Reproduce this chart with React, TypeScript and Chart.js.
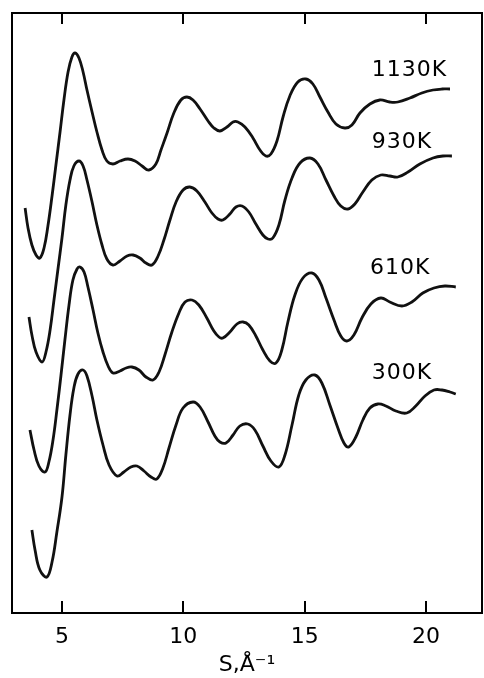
import React, { useEffect, useRef } from "react";
import { Chart, registerables } from "chart.js";

Chart.register(...registerables);

// x axis (S, Å^-1)
const xMin = 2.94;
const xMax = 22.31;
const tickValues = [5, 10, 15, 20];
// y axis: intensity, arbitrary units (curves are shown vertically offset)
const yMin = 0;
const yMax = 600;

// 1130 K
const s1130X = [3.48, 3.6, 3.76, 3.93, 4.09, 4.26, 4.42, 4.59, 4.75, 4.92, 5.08, 5.25, 5.41, 5.54, 5.7, 5.87, 6.03, 6.24, 6.44, 6.65, 6.85, 7.1, 7.39, 7.72, 8.01, 8.3, 8.58, 8.87, 9.08, 9.33, 9.61, 9.9, 10.15, 10.4, 10.69, 11.02, 11.26, 11.51, 11.8, 12.05, 12.25, 12.54, 12.87, 13.16, 13.4, 13.61, 13.86, 14.11, 14.39, 14.72, 15.05, 15.34, 15.63, 15.96, 16.29, 16.66, 16.95, 17.28, 17.69, 18.1, 18.51, 18.84, 19.34, 19.83, 20.29, 20.66, 20.99];
const s1130Y = [405, 385, 368, 358, 355, 365, 387, 417, 448, 481, 513, 541, 556, 560, 555, 541, 523, 501, 481, 463, 452, 449, 452, 454, 452, 447, 443, 449, 463, 480, 500, 513, 516, 513, 504, 492, 485, 482, 486, 491, 491, 486, 475, 463, 457, 459, 472, 496, 517, 531, 534, 529, 516, 501, 489, 485, 488, 500, 509, 513, 511, 511, 515, 520, 523, 524, 524];

// 930 K
const s930X = [3.64, 3.76, 3.93, 4.18, 4.34, 4.51, 4.67, 4.84, 5.0, 5.16, 5.33, 5.49, 5.7, 5.87, 6.03, 6.24, 6.44, 6.65, 6.85, 7.1, 7.39, 7.68, 7.93, 8.21, 8.46, 8.71, 8.96, 9.2, 9.45, 9.7, 9.99, 10.27, 10.56, 10.89, 11.18, 11.43, 11.63, 11.92, 12.17, 12.42, 12.7, 12.99, 13.28, 13.49, 13.69, 13.94, 14.19, 14.48, 14.81, 15.22, 15.55, 15.88, 16.21, 16.49, 16.78, 17.07, 17.4, 17.77, 18.14, 18.51, 18.84, 19.26, 19.75, 20.29, 20.7, 21.07];
const s930Y = [296, 278, 261, 251, 261, 283, 313, 345, 375, 408, 433, 447, 452, 447, 433, 411, 388, 368, 354, 348, 352, 357, 358, 355, 350, 348, 357, 373, 393, 411, 423, 426, 422, 411, 400, 394, 393, 399, 406, 407, 401, 389, 378, 374, 375, 388, 413, 435, 450, 455, 449, 433, 417, 407, 404, 409, 421, 433, 438, 437, 436, 441, 449, 455, 457, 457];

// 610 K
const s610X = [3.68, 3.85, 4.05, 4.3, 4.46, 4.63, 4.79, 4.96, 5.12, 5.29, 5.45, 5.62, 5.74, 5.91, 6.07, 6.28, 6.48, 6.69, 6.9, 7.1, 7.39, 7.64, 7.88, 8.17, 8.46, 8.75, 9.0, 9.24, 9.53, 9.82, 10.07, 10.36, 10.64, 10.97, 11.26, 11.47, 11.63, 11.92, 12.21, 12.46, 12.7, 12.99, 13.28, 13.57, 13.82, 14.06, 14.31, 14.6, 14.93, 15.3, 15.59, 15.88, 16.21, 16.49, 16.74, 17.03, 17.36, 17.73, 18.14, 18.51, 19.01, 19.42, 19.87, 20.33, 20.78, 21.23];
const s610Y = [183, 163, 147, 141, 151, 173, 203, 238, 273, 308, 333, 344, 346, 341, 326, 303, 280, 261, 247, 240, 242, 245, 246, 243, 236, 233, 241, 258, 281, 300, 311, 313, 308, 295, 282, 276, 275, 281, 289, 291, 288, 277, 263, 252, 250, 263, 291, 318, 335, 340, 333, 315, 293, 277, 272, 278, 295, 309, 315, 311, 307, 311, 320, 325, 327, 326];

// 300 K
const s300X = [3.76, 3.89, 4.09, 4.38, 4.59, 4.79, 5.0, 5.16, 5.33, 5.49, 5.66, 5.87, 6.03, 6.24, 6.44, 6.69, 6.94, 7.27, 7.55, 7.84, 8.09, 8.38, 8.67, 8.91, 9.16, 9.41, 9.7, 9.99, 10.4, 10.69, 11.02, 11.3, 11.51, 11.76, 12.05, 12.33, 12.66, 12.95, 13.28, 13.61, 13.94, 14.19, 14.48, 14.76, 15.05, 15.42, 15.71, 16.04, 16.37, 16.62, 16.82, 17.11, 17.4, 17.69, 18.02, 18.35, 18.76, 19.21, 19.58, 19.96, 20.33, 20.66, 20.99, 21.23];
const s300Y = [83, 63, 43, 36, 51, 81, 116, 158, 198, 225, 239, 243, 237, 217, 193, 168, 148, 137, 141, 146, 147, 142, 136, 134, 145, 165, 188, 205, 211, 206, 191, 177, 171, 170, 178, 187, 189, 183, 167, 152, 146, 158, 188, 218, 233, 238, 230, 208, 185, 170, 166, 176, 193, 205, 209, 207, 202, 200, 207, 217, 223, 223, 221, 219];

const seriesX = [s1130X, s930X, s610X, s300X];
const seriesY = [s1130Y, s930Y, s610Y, s300Y];
const seriesLabels = ["1130K", "930K", "610K", "300K"];
const labelX = [17.77, 17.77, 17.69, 17.77];
const labelY = [543, 471, 345, 240];

const FONT = "'DejaVu Sans', sans-serif";

const framePlugin = {
  id: "frame",
  afterDraw(chart: any) {
    const { ctx, chartArea: a, scales } = chart;
    const xs = scales.x;
    const ys = scales.y;
    ctx.save();
    ctx.strokeStyle = "#000";
    ctx.lineWidth = 2;
    ctx.strokeRect(a.left, a.top, a.right - a.left, a.bottom - a.top);
    tickValues.forEach((v) => {
      const px = Math.round(xs.getPixelForValue(v));
      ctx.beginPath();
      ctx.moveTo(px, a.bottom);
      ctx.lineTo(px, a.bottom - 12);
      ctx.moveTo(px, a.top);
      ctx.lineTo(px, a.top + 11);
      ctx.stroke();
    });
    ctx.fillStyle = "#000";
    ctx.font = "22px " + FONT;
    try {
      (ctx as any).letterSpacing = "1px";
    } catch (e) {}
    ctx.textBaseline = "middle";
    ctx.textAlign = "left";
    seriesLabels.forEach((t, i) => {
      ctx.fillText(t, xs.getPixelForValue(labelX[i]), ys.getPixelForValue(labelY[i]));
    });
    ctx.restore();
  },
};

export default function App() {
  const ref = useRef<HTMLCanvasElement | null>(null);
  useEffect(() => {
    if (!ref.current) return;
    const datasets = seriesX.map((xsArr, k) => ({
      label: seriesLabels[k],
      data: xsArr.map((x, i) => ({ x, y: seriesY[k][i] })),
      borderColor: "#111",
      borderWidth: 2.8,
      pointRadius: 0,
      fill: false,
      tension: 0.4,
    }));
    const chart = new Chart(ref.current, {
      type: "line",
      data: { datasets },
      options: {
        animation: false,
        responsive: false,
        maintainAspectRatio: false,
        layout: { padding: { left: 12, right: 2, top: 13, bottom: 0 } },
        plugins: { legend: { display: false }, tooltip: { enabled: false } },
        scales: {
          x: {
            type: "linear",
            min: xMin,
            max: xMax,
            afterBuildTicks: (s: any) => {
              s.ticks = tickValues.map((v) => ({ value: v }));
            },
            afterFit: (s: any) => {
              s.height = 65;
            },
            grid: { display: false },
            border: { display: false },
            ticks: {
              color: "#000",
              font: { family: FONT, size: 22 },
              padding: 3,
              maxRotation: 0,
              callback: (v: any) => String(v),
            },
            title: {
              display: true,
              text: "S,Å⁻¹",
              color: "#000",
              font: { family: FONT, size: 22 },
              padding: 0,
            },
          },
          y: { display: false, min: yMin, max: yMax },
        },
      },
      plugins: [framePlugin],
    });
    return () => chart.destroy();
  }, []);
  return (
    <div style={{ position: "fixed", left: 0, top: 0, width: 484, height: 678, background: "#fff" }}>
      <canvas ref={ref} width={484} height={678} style={{ display: "block" }} />
    </div>
  );
}
